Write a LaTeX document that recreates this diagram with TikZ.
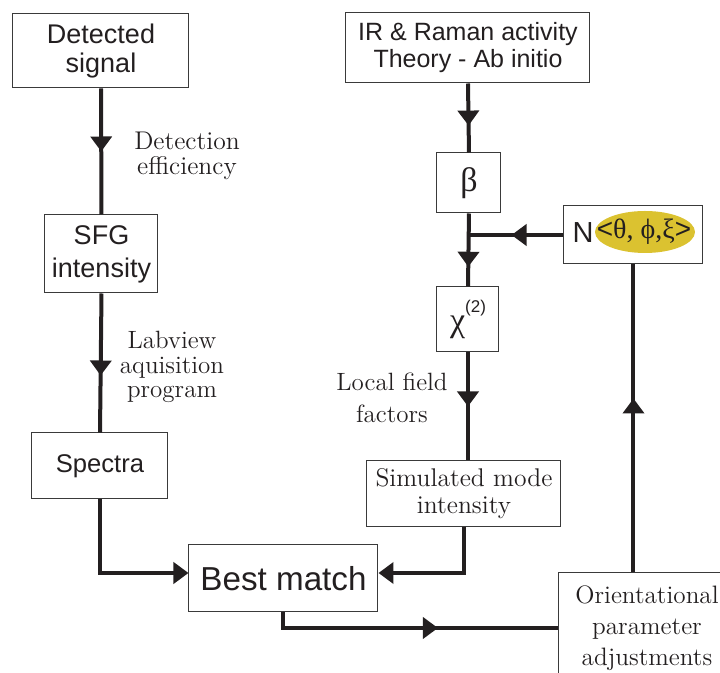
\documentclass[tikz,border=0pt]{standalone}
\usepackage{fontspec}
\usepackage{tikz}
\usetikzlibrary{arrows.meta,positioning,calc,decorations.markings,shapes.geometric}
\setsansfont{Liberation Sans}
\newfontfamily\greekfont{Liberation Serif}
\definecolor{ink}{HTML}{231F20}
\definecolor{frame}{HTML}{3A3A3A}
\definecolor{orient}{HTML}{DBC230}

\begin{document}
\begin{tikzpicture}[x=0.5pt,y=-0.5pt,color=ink,
  box/.style={draw=frame,line width=0.5pt,inner sep=0pt,align=center},
  sbox/.style={box,font=\sffamily\fontsize{13.5}{14.5}\selectfont},
  note/.style={align=center,inner sep=0pt,font=\fontsize{12.8}{12.5}\selectfont},
  flow/.style={line width=2pt,draw=ink},
  flowtip/.style={flow,postaction={decorate},decoration={markings,
    mark=at position #1 with {\arrow{Triangle[length=7.5pt,width=10.5pt]}}}},
  endtip/.style={flow,-{Triangle[length=7.5pt,width=10.5pt]}}]
\useasboundingbox (0,0) rectangle (720,673);
\clip (0,0) rectangle (720,673);

% ---------- left column: measurement ----------
\node[sbox,minimum width=88pt,minimum height=37pt] (det) at (101,51) {Detected\\signal};
\node[sbox,minimum width=56.5pt,minimum height=39pt,font=\sffamily\fontsize{13.5}{16.5}\selectfont]
  (sfg) at (101.5,254) {SFG\\intensity};
\node[sbox,minimum width=68pt,minimum height=33pt,font=\sffamily\fontsize{12.8}{14}\selectfont]
  (spec) at (100,466) {Spectra};
\node[note] (eff) at (187,156) {Detection\\efficiency};
\node[note,font=\fontsize{12.5}{12.2}\selectfont] (lab) at (172,367) {Labview\\aquisition\\program};

% ---------- right column: theory ----------
\node[sbox,minimum width=122pt,minimum height=35pt,font=\sffamily\fontsize{12.5}{13.5}\selectfont]
  (ir) at (468,48) {IR \& Raman activity\\Theory - Ab initio};
\node[box,minimum width=32pt,minimum height=30pt,font=\greekfont\fontsize{17}{18}\selectfont]
  (beta) at (469,183) {β};
\node[box,minimum width=31pt,minimum height=32.5pt,font=\greekfont\fontsize{17}{18}\selectfont]
  (chi) at (468,319.5) {χ\raisebox{1.2ex}{\sffamily\fontsize{8.5}{9}\selectfont (2)}};
\node[box,minimum width=97pt,minimum height=33pt,font=\fontsize{12.8}{13.5}\selectfont]
  (sim) at (464,494) {Simulated mode\\intensity};
\node[note,font=\fontsize{12.5}{16}\selectfont] (loc) at (392,398) {Local field\\factors};

% ---------- orientation loop ----------
\node[box,minimum width=69.5pt,minimum height=29pt] (nbox) at (633.5,235) {};
\fill[orient] (645,232) ellipse [x radius=25pt,y radius=10.5pt];
\node[inner sep=0pt] (ang) at (644,232)
  {\sffamily\fontsize{14}{15}\selectfont<\greekfont θ, ϕ,ξ\sffamily>};
\node[inner sep=0pt,font=\sffamily\fontsize{14.5}{15}\selectfont] (nn) at (583,233) {N};
\node[box,minimum width=88pt,minimum height=55pt,font=\fontsize{12.6}{15.5}\selectfont]
  (ori) at (647,628) {Orientational\\parameter\\adjustments};
\node[sbox,minimum width=94.5pt,minimum height=33.5pt,font=\sffamily\fontsize{16.6}{17}\selectfont]
  (best) at (283.5,578.5) {Best match};

% ---------- connectors ----------
\draw[flowtip=0.5] (det.south) -- (sfg.north);
\draw[flowtip=0.59] (sfg.south) -- (spec.north);
\draw[endtip] (spec.south) |- ([yshift=2.75pt]best.west);
\draw[flowtip=0.61] (ir.south) -- (beta.north);
\draw[flowtip=0.73] (beta.south) -- (chi.north);
\draw[flowtip=0.5] (chi.south) -- (chi.south |- sim.north);
\draw[endtip] (sim.south) |- ([yshift=2.75pt]best.east);
\draw[flowtip=0.55] (nbox.west) -- (nbox.west -| beta.south);
\draw[flowtip=0.585] (best.south) |- (ori.west);
\draw[flowtip=0.565] (nbox.south |- ori.north) -- (nbox.south);
\end{tikzpicture}
\end{document}
